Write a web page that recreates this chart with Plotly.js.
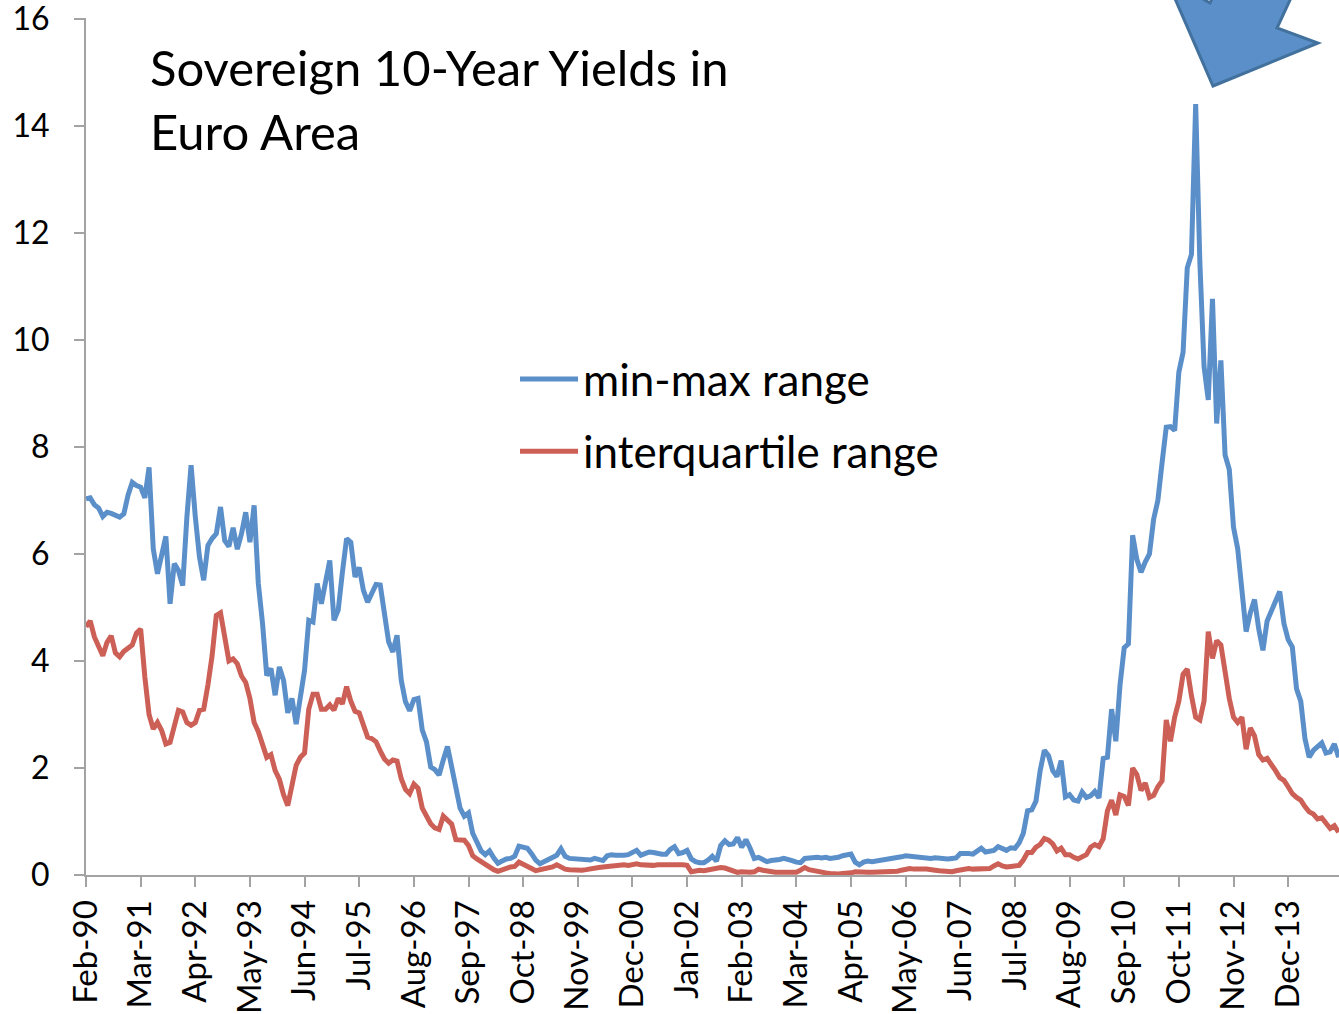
<!DOCTYPE html>
<html>
<head>
<meta charset="utf-8">
<script src="https://cdn.plot.ly/plotly-3.0.1.min.js"></script>
<style>html,body{margin:0;padding:0;background:#fff;}#chart{width:1339px;height:1014px;}</style>
</head>
<body>
<div id="chart"></div>
<script>
// Monthly series, Feb-90 onward (index 0 = Feb-90)
const startYear = 1990;
const startMonth = 1; // Feb (0-based)
const monthNames = ["Jan","Feb","Mar","Apr","May","Jun","Jul","Aug","Sep","Oct","Nov","Dec"];

const minMaxRange = [
7.03,7.05,6.92,6.86,6.70,6.78,6.76,6.72,6.69,6.75,
7.10,7.34,7.28,7.25,7.05,7.62,6.10,5.63,5.94,6.33,
5.07,5.82,5.69,5.41,6.69,7.66,6.70,5.94,5.51,6.16,
6.29,6.38,6.88,6.25,6.14,6.49,6.09,6.38,6.78,6.22,
6.91,5.45,4.70,3.73,3.86,3.36,3.89,3.64,3.03,3.30,
2.82,3.33,3.83,4.76,4.73,5.45,5.07,5.48,5.88,4.76,
4.95,5.66,6.29,6.22,5.57,5.75,5.32,5.10,5.26,5.43,
5.42,4.89,4.36,4.17,4.48,3.64,3.24,3.07,3.28,3.30,
2.71,2.49,2.02,1.97,1.87,2.15,2.40,2.02,1.62,1.25,
1.10,1.16,0.78,0.62,0.45,0.38,0.45,0.32,0.22,0.26,
0.30,0.31,0.35,0.54,0.51,0.50,0.40,0.28,0.21,0.25,
0.27,0.31,0.37,0.49,0.35,0.31,0.30,0.29,0.28,0.27,
0.28,0.31,0.30,0.27,0.36,0.38,0.37,0.36,0.37,0.38,
0.41,0.46,0.37,0.40,0.43,0.42,0.40,0.39,0.39,0.48,
0.53,0.40,0.42,0.46,0.30,0.25,0.23,0.23,0.28,
0.35,0.26,0.55,0.64,0.57,0.58,0.70,0.52,0.66,0.50,
0.31,0.33,0.29,0.25,0.27,0.27,0.29,0.31,0.30,0.27,
0.24,0.23,0.31,0.32,0.33,0.33,0.32,0.33,0.31,0.31,
0.33,0.36,0.38,0.39,0.24,0.19,0.24,0.26,0.25,0.26,
0.27,0.28,0.29,0.30,0.31,0.34,0.36,0.35,0.33,0.34,
0.31,0.30,0.31,0.32,0.31,0.31,0.30,0.31,0.32,0.40,
0.41,0.40,0.39,0.45,0.50,0.43,0.45,0.46,0.53,0.50,
0.46,0.51,0.50,0.60,0.78,1.20,1.22,1.38,1.95,2.33,
2.23,1.95,1.84,2.14,1.46,1.50,1.40,1.38,1.55,1.45,
1.48,1.56,1.44,2.18,2.20,3.10,2.50,3.55,4.25,4.32,
6.35,5.90,5.66,5.85,6.00,6.65,7.00,7.70,8.37,8.38,
8.31,9.40,9.77,11.35,11.60,14.41,11.45,9.50,8.88,10.77,
8.44,9.62,7.85,7.58,6.50,6.10,5.20,4.55,4.90,5.15,
4.60,4.20,4.75,4.95,5.15,5.30,4.70,4.40,4.26,3.48,
3.25,2.55,2.20,2.33,2.40,2.47,2.28,2.30,2.45,2.20
];

const interquartileRange = [
4.64,4.75,4.45,4.28,4.10,4.35,4.47,4.15,4.08,4.18,
4.25,4.30,4.52,4.60,3.70,3.00,2.73,2.85,2.70,2.45,
2.48,2.80,3.08,3.05,2.85,2.80,2.85,3.08,3.10,3.55,
4.10,4.85,4.90,4.45,4.00,4.04,3.95,3.72,3.60,3.30,
2.85,2.68,2.40,2.20,2.25,1.95,1.79,1.50,1.30,1.65,
2.05,2.20,2.28,3.10,3.38,3.38,3.10,3.10,3.18,3.08,
3.30,3.20,3.52,3.25,3.06,3.03,2.78,2.58,2.55,2.49,
2.32,2.17,2.09,2.15,2.13,1.80,1.60,1.52,1.70,1.62,
1.25,1.12,0.96,0.88,0.85,1.10,1.03,0.95,0.66,0.66,
0.65,0.55,0.36,0.30,0.25,0.20,0.14,0.10,0.07,0.10,
0.13,0.15,0.16,0.24,0.20,0.17,0.12,0.08,0.10,0.12,
0.12,0.15,0.19,0.14,0.11,0.10,0.09,0.08,0.09,0.10,
0.12,0.13,0.14,0.15,0.16,0.17,0.17,0.18,0.19,0.18,
0.20,0.21,0.19,0.18,0.17,0.18,0.19,0.18,0.19,0.19,
0.18,0.19,0.19,0.18,0.06,0.08,0.09,0.08,0.10,
0.11,0.12,0.14,0.13,0.10,0.07,0.05,0.06,0.05,0.05,
0.06,0.11,0.09,0.07,0.06,0.05,0.05,0.05,0.05,0.05,
0.05,0.09,0.14,0.10,0.08,0.06,0.05,0.04,0.03,0.02,
0.02,0.03,0.03,0.04,0.06,0.05,0.05,0.05,0.05,0.05,
0.06,0.06,0.05,0.06,0.07,0.09,0.11,0.12,0.11,0.10,
0.11,0.11,0.11,0.09,0.08,0.07,0.06,0.06,0.08,0.10,
0.12,0.12,0.11,0.11,0.11,0.10,0.12,0.17,0.21,0.17,
0.15,0.16,0.17,0.18,0.28,0.42,0.42,0.52,0.57,0.68,
0.65,0.58,0.45,0.50,0.38,0.38,0.33,0.30,0.34,0.38,
0.52,0.57,0.53,0.68,1.20,1.40,1.12,1.50,1.47,1.30,
2.00,1.88,1.58,1.72,1.45,1.49,1.65,1.76,2.90,2.50,
2.95,3.25,3.75,3.85,3.35,2.95,2.90,3.25,4.55,4.05,
4.38,4.30,3.80,3.30,2.95,2.85,2.95,2.35,2.75,2.60,
2.25,2.15,2.18,2.08,1.95,1.82,1.77,1.65,1.52,1.45,
1.40,1.28,1.18,1.14,1.05,1.07,0.95,0.87,0.92,0.80
];

const tickStep = 13; // one label every 13 months
const yTickVals = [0,2,4,6,8,10,12,14,16];

// month index axis + labels
const monthIndex = minMaxRange.map((_, i) => i);
const monthLabels = monthIndex.map(i => {
  const t = startMonth + i;
  const y = startYear + Math.floor(t / 12);
  return monthNames[t % 12] + "-" + String(y % 100).padStart(2, "0");
});
const xTickVals = monthIndex.filter(i => i % tickStep === 0);
const xTickText = xTickVals.map(i => monthLabels[i]);

const FONT = "Lato, 'Open Sans', sans-serif";
const AXIS_GRAY = "#a3a3a3";

// paper-coordinate helper for the decorative arrow (pixel-based)
const W = 1339, H = 1014, ML = 86, MR = 0, MT = 18, MB = 139;
const pw = W - ML - MR, ph = H - MT - MB;
const px = x => ((x - ML) / pw).toFixed(5);
const py = y => ((H - MB - y) / ph).toFixed(5);
const arrowPts = [[1213,86],[1318,43],[1277,28],[1303,-28],[1224,-28],[1210,3],[1166,-22]];
const arrowPath = "M" + arrowPts.map(p => px(p[0]) + "," + py(p[1])).join(" L") + " Z";

const traces = [
  {
    x: monthIndex, y: minMaxRange, text: monthLabels,
    type: "scatter", mode: "lines", name: "min-max range",
    legendgroup: "a",
    line: {color: "#5b8fc9", width: 5},
    hovertemplate: "%{text}: %{y}<extra>min-max range</extra>"
  },
  {
    x: monthIndex, y: interquartileRange, text: monthLabels,
    type: "scatter", mode: "lines", name: "interquartile range",
    legendgroup: "b",
    line: {color: "#cc5f56", width: 5},
    hovertemplate: "%{text}: %{y}<extra>interquartile range</extra>"
  }
];

const layout = {
  width: W, height: H,
  margin: {l: ML, r: MR, t: MT, b: MB},
  paper_bgcolor: "#ffffff", plot_bgcolor: "#ffffff",
  font: {family: FONT, color: "#000000"},
  title: {
    text: "Sovereign 10-Year Yields in<br>Euro Area",
    font: {family: FONT, size: 49, color: "#000000"},
    xref: "container", yref: "container",
    x: 150 / W, xanchor: "left",
    y: 1 - 86 / H, yanchor: "top"
  },
  xaxis: {
    range: [0, 298.1],
    tickmode: "array", tickvals: xTickVals, ticktext: xTickText,
    tickangle: -90,
    tickfont: {family: FONT, size: 33, color: "#000000"},
    ticks: "outside", ticklen: 10, tickwidth: 2, tickcolor: AXIS_GRAY,
    showline: true, linecolor: AXIS_GRAY, linewidth: 2,
    showgrid: false, zeroline: false,
    ticklabelstandoff: 0,
    ticklabeloverflow: "allow"
  },
  yaxis: {
    range: [0, 16.02],
    tickmode: "array", tickvals: yTickVals,
    tickfont: {family: FONT, size: 32, color: "#000000"},
    ticks: "outside", ticklen: 10, tickwidth: 2, tickcolor: AXIS_GRAY,
    showline: true, linecolor: AXIS_GRAY, linewidth: 2,
    showgrid: false, zeroline: false,
    ticklabelstandoff: 18,
    ticklabeloverflow: "allow"
  },
  showlegend: true,
  legend: {
    x: (515 - ML) / pw, xanchor: "left",
    y: (875 - 344) / ph, yanchor: "top",
    bgcolor: "rgba(0,0,0,0)", borderwidth: 0,
    font: {family: FONT, size: 44, color: "#000000"},
    itemwidth: 58, tracegroupgap: 12
  },
  shapes: [{
    type: "path", xref: "paper", yref: "paper",
    path: arrowPath,
    fillcolor: "#5b8fc9", line: {color: "#41719c", width: 3},
    layer: "above"
  }]
};

Plotly.newPlot("chart", traces, layout, {displayModeBar: false, staticPlot: true});
</script>
</body>
</html>
